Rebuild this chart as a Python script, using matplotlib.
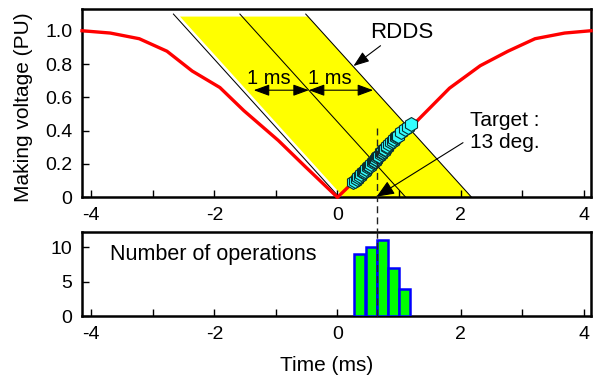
import numpy as np
import matplotlib
matplotlib.use("Agg")
import matplotlib.pyplot as plt

plt.rcParams['font.family'] = ['Liberation Sans', 'DejaVu Sans']
plt.rcParams['axes.unicode_minus'] = False

# making voltage envelope (red curve)
env_t = [-4.15, -3.69, -3.22, -2.77, -2.36, -1.91, -1.52, -0.96, -0.52, 0.0,
         1.27, 1.82, 2.32, 2.77, 3.21, 3.69, 4.12]
env_v = [1.0, 0.986, 0.952, 0.877, 0.758, 0.659, 0.520, 0.341, 0.183, 0.0,
         0.45, 0.655, 0.79, 0.877, 0.952, 0.986, 1.0]

# measured making points (cyan markers)
op_t = [0.25, 0.28, 0.31, 0.34, 0.36, 0.38, 0.41, 0.43, 0.45,
        0.47, 0.49, 0.51, 0.53, 0.55, 0.57, 0.59, 0.61, 0.62, 0.63,
        0.65, 0.66, 0.68, 0.70, 0.71, 0.73, 0.75, 0.76, 0.78, 0.80, 0.81,
        0.84, 0.87, 0.90, 0.92, 0.95, 0.97, 0.99,
        1.04, 1.09, 1.14, 1.19]
op_v = [0.09, 0.10, 0.11, 0.12, 0.13, 0.14, 0.15, 0.15, 0.16,
        0.17, 0.18, 0.19, 0.19, 0.20, 0.21, 0.22, 0.22, 0.23, 0.23,
        0.24, 0.25, 0.25, 0.26, 0.27, 0.27, 0.28, 0.29, 0.29, 0.30, 0.31,
        0.32, 0.33, 0.34, 0.35, 0.36, 0.37, 0.37,
        0.39, 0.41, 0.42, 0.44]

# histogram of operations
hist_t = [0.364, 0.547, 0.729, 0.912, 1.094]
hist_n = [9, 10, 11, 7, 4]
hist_w = 0.1825

# RDDS band (lines where they meet v=0, and their top)
band_t0 = [0.03, 1.11, 2.18]
band_fill_left = 0.10
band_slope = -2.45      # ms per PU
band_top = 1.10
fill_top = 1.085

target_t = 0.636

fig = plt.figure(figsize=(5.97, 3.78), dpi=100)
ax1 = fig.add_axes([0.1374, 0.478, 0.8526, 0.498])
ax2 = fig.add_axes([0.1374, 0.164, 0.8526, 0.2235])

#yellow band
fx = [band_fill_left, band_t0[2], band_t0[2] + band_slope * fill_top,
      band_fill_left + band_slope * fill_top]
fy = [0, 0, fill_top, fill_top]
ax1.fill(fx, fy, color='#ffff00', lw=0, zorder=1)
for t0 in band_t0:
    ax1.plot([t0, t0 + band_slope * band_top], [0, band_top], color='black', lw=0.75, zorder=2)

ax1.plot(env_t, env_v, color='#ff0000', lw=2.4, zorder=3, clip_on=False)
ax1.plot(op_t, op_v, ls='none', marker='h', ms=10, mfc='#33ffff', mec='#0a3030', mew=0.8, zorder=4)

# target dashed line (through the gap into the histogram)
ax1.plot([target_t, target_t], [0.414, -0.2], color='#222222', lw=1.0, ls=(0, (5, 3)), zorder=5, clip_on=False)
ax2.plot([target_t, target_t], [0, 12.3], color='#222222', lw=1.0, ls=(0, (5, 3)), zorder=5, clip_on=False)

# 1 ms arrows
arr = dict(arrowstyle='<|-|>,head_length=0.6,head_width=0.22', color='black', lw=0.8,
           mutation_scale=16, shrinkA=0, shrinkB=0)
ax1.annotate('', xy=(-1.36, 0.643), xytext=(-0.465, 0.643), arrowprops=arr, zorder=6)
ax1.annotate('', xy=(-0.465, 0.643), xytext=(0.58, 0.643), arrowprops=arr, zorder=6)
ax1.text(-1.12, 0.714, '1 ms', fontsize=14.5, ha='center', va='center')
ax1.text(-0.12, 0.714, '1 ms', fontsize=14.5, ha='center', va='center')

ax1.text(1.04, 0.99, 'RDDS', fontsize=16, ha='center', va='center')
ax1.annotate('', xy=(0.26, 0.788), xytext=(0.70, 0.91),
             arrowprops=dict(arrowstyle='-|>,head_length=0.6,head_width=0.22', color='black',
                             lw=0.8, mutation_scale=16, shrinkA=0, shrinkB=0))
ax1.annotate('', xy=(target_t, 0.004), xytext=(2.04, 0.328),
             arrowprops=dict(arrowstyle='-|>,head_length=0.6,head_width=0.25', color='black',
                             lw=0.8, mutation_scale=18, shrinkA=0, shrinkB=0))
ax1.text(2.15, 0.395, 'Target :\n13 deg.', fontsize=15, ha='left', va='center', linespacing=1.25)

ax2.bar(hist_t, hist_n, width=hist_w, color='#00ff00', edgecolor='#0000ff', lw=1.8, zorder=3)
ax2.text(-3.69, 9.0, 'Number of operations', fontsize=15.5, ha='left', va='center')

for ax in (ax1, ax2):
    ax.set_xlim(-4.15, 4.12)
    ax.set_xticks([-4, -2, 0, 2, 4])
    ax.set_xticklabels(['-4', '-2', '0', '2', '4'])
    ax.set_xticks([-3, -1, 1, 3], minor=True)
    ax.tick_params(which='both', direction='in', length=5, width=1, top=False, right=False,
                   labelsize=14, pad=7)
    for s in ax.spines.values():
        s.set_linewidth(1.8)

ax1.set_ylim(0, 1.13)
ax1.set_yticks([0, 0.2, 0.4, 0.6, 0.8, 1.0])
ax1.set_yticklabels(['0', '0.2', '0.4', '0.6', '0.8', '1.0'])
ax1.set_ylabel('Making voltage (PU)', fontsize=15)
ax1.yaxis.set_label_coords(-0.096, 0.477)

ax2.set_ylim(0, 12.3)
ax2.set_yticks([0, 5, 10])
ax2.set_xlabel('Time (ms)', fontsize=15)
ax2.xaxis.set_label_coords(0.48, -0.47)

plt.savefig('out.png', dpi=100)
